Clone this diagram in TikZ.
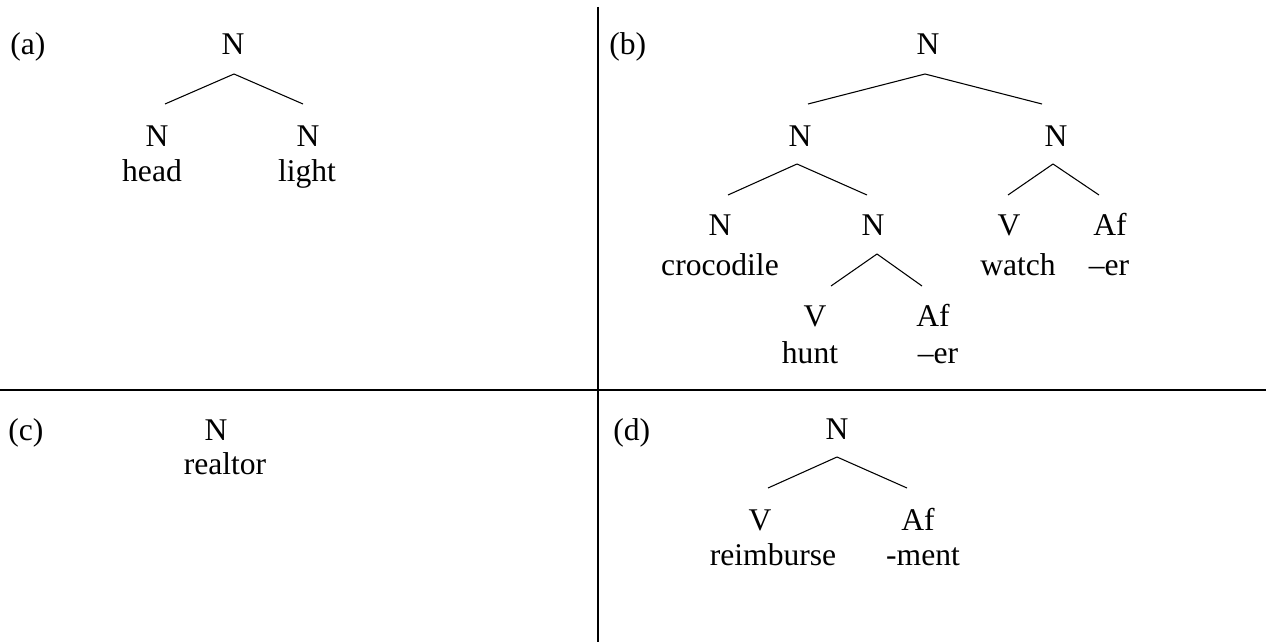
\documentclass[tikz,border=0pt]{standalone}
\usepackage{fontspec}
\setmainfont{Liberation Serif}
\usepackage{tikz}
\usetikzlibrary{calc}
\newcommand{\treefont}{\fontsize{23.7}{28}\selectfont}
\tikzstyle{cat}     = [anchor=base, inner sep=0pt, font=\treefont]
\tikzstyle{word}    = [anchor=base, inner sep=0pt, font=\treefont]
\tikzstyle{tag}     = [anchor=base west, inner sep=0pt, font=\treefont]
\tikzstyle{branch}  = [line width=0.8pt]
\tikzstyle{divider} = [line width=1.6pt]

\begin{document}
\begin{tikzpicture}[x=0.75pt, y=-0.75pt]
  \useasboundingbox (0,0) rectangle (1266,642);

  %% Panel dividers
  \coordinate (vtop) at (598,7);
  \coordinate (vbot) at (598,642);
  \coordinate (hl) at (0,390);
  \coordinate (hr) at (1266,390);
  \draw[divider] (vtop) -- (vbot);
  \draw[divider] (hl) -- (hr);

  %% ── (a) ─────────────────────────────────────────────
  \node[tag] (a-tag) at (10,55) {(a)};
  \node[cat] (a-N)  at (233,55)  {N};
  \node[cat] (a-N1) at (157,146) {N};
  \node[cat] (a-N2) at (308,146) {N};
  \node[word] (a-w1) at (152,181) {head};
  \node[word] (a-w2) at (307,181) {light};
  \draw[branch] ($(a-N.base)+(1,19)$) -- ($(a-N1.base)+(8,-42)$);
  \draw[branch] ($(a-N.base)+(1,19)$) -- ($(a-N2.base)+(-5,-42)$);

  %% ── (b) ─────────────────────────────────────────────
  \node[tag] (b-tag) at (609,55) {(b)};
  \node[cat] (b-N)   at (928,55)   {N};
  \node[cat] (b-N1)  at (800,146)  {N};
  \node[cat] (b-N2)  at (1056,146) {N};
  \node[cat] (b-N11) at (720,235)  {N};
  \node[cat] (b-N12) at (873,235)  {N};
  \node[cat] (b-V)   at (1009,235) {V};
  \node[cat] (b-Af)  at (1110,235) {Af};
  \node[cat] (b-V2)  at (815,326)  {V};
  \node[cat] (b-Af2) at (933,326)  {Af};
  \node[word] (b-w1) at (720,275)  {crocodile};
  \node[word] (b-w2) at (1018,275) {watch};
  \node[word] (b-w3) at (1109,275) {–er};
  \node[word] (b-w4) at (810,363)  {hunt};
  \node[word] (b-w5) at (938,363)  {–er};

  \draw[branch] ($(b-N.base)+(-3,19)$) -- ($(b-N1.base)+(8,-42)$);
  \draw[branch] ($(b-N.base)+(-3,19)$) -- ($(b-N2.base)+(-14,-42)$);
  \draw[branch] ($(b-N1.base)+(-3,18)$) -- ($(b-N11.base)+(8,-40)$);
  \draw[branch] ($(b-N1.base)+(-3,18)$) -- ($(b-N12.base)+(-6,-40)$);
  \draw[branch] ($(b-N2.base)+(-3,18)$) -- ($(b-V.base)+(-1,-40)$);
  \draw[branch] ($(b-N2.base)+(-3,18)$) -- ($(b-Af.base)+(-11,-40)$);
  \draw[branch] ($(b-N12.base)+(4,19)$) -- ($(b-V2.base)+(16,-40)$);
  \draw[branch] ($(b-N12.base)+(4,19)$) -- ($(b-Af2.base)+(-11,-40)$);

  %% ── (c) ─────────────────────────────────────────────
  \node[tag] (c-tag) at (8,440) {(c)};
  \node[cat] (c-N)   at (216,440) {N};
  \node[word] (c-w1) at (225,474) {realtor};

  %% ── (d) ─────────────────────────────────────────────
  \node[tag] (d-tag) at (613,440) {(d)};
  \node[cat] (d-N)   at (837,439) {N};
  \node[cat] (d-V)   at (760,530) {V};
  \node[cat] (d-Af)  at (918,530) {Af};
  \node[word] (d-w1) at (773,565) {reimburse};
  \node[word] (d-w2) at (923,565) {-ment};
  \draw[branch] ($(d-N.base)+(0,18)$) -- ($(d-V.base)+(8,-42)$);
  \draw[branch] ($(d-N.base)+(0,18)$) -- ($(d-Af.base)+(-11,-42)$);

\end{tikzpicture}
\end{document}
